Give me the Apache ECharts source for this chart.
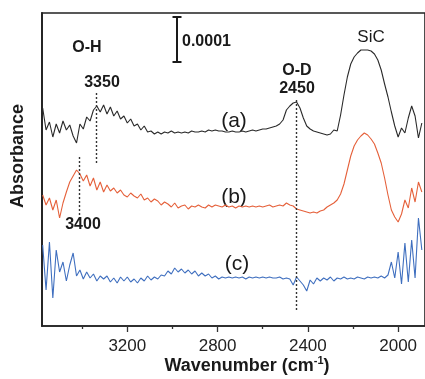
<!DOCTYPE html>
<html><head><meta charset="utf-8">
<script src="https://cdn.jsdelivr.net/npm/echarts@6/dist/echarts.min.js"></script>
<style>html,body{margin:0;padding:0;background:#fff}#c{width:425px;height:379px}</style>
</head><body><div id="c"></div>
<script>
// sampling: wavenumber = 3575 - 15*i (cm-1)
const START_WN = 3575, STEP_WN = 15;
// absorbance (arbitrary offset units, scale bar 0.0001 = 44 units)
const traceA = [218,196,204,189,202,193,205,196,201,190,183,202,197,209,205,216,220,214,221,212,219,210,215,207,210,203,207,200,202,196,200,194,195,192,194,192,194,193,195,193,194,193,194,193,195,194,194,195,194,196,195,196,195,195,194,194,195,194,194,195,194,195,196,195,196,197,197,198,199,200,202,206,216,220,223,224,218,208,200,197,195,194,193,192,191,192,196,195,211,231,249,262,269,273,276,276,276,275,272,266,256,242,229,214,200,189,198,193,208,220,210,188,203];
const traceB = [131,121,128,116,126,108,123,134,144,150,156,152,145,151,140,148,136,144,134,141,135,138,133,136,131,129,133,130,128,132,126,128,124,127,125,121,124,122,119,123,118,120,121,117,120,119,121,119,118,121,119,121,120,119,121,119,120,118,120,119,120,119,120,119,120,119,120,121,119,120,121,120,123,121,120,117,116,115,114,113,114,113,115,116,119,121,123,126,132,142,156,170,180,186,190,193,191,187,182,173,163,148,131,116,109,104,112,126,118,138,124,144,134];
const traceC = [81,36,84,28,76,54,64,45,61,73,50,56,47,54,48,52,45,50,47,50,44,48,43,49,45,49,44,47,43,48,45,50,46,49,47,51,50,55,52,58,54,57,53,56,52,55,50,53,50,52,48,50,47,49,48,49,48,49,48,49,47,49,48,49,48,49,48,49,48,48,49,47,48,47,41,49,45,41,35,46,42,48,45,48,46,49,45,48,47,49,47,48,47,49,48,47,49,48,49,48,50,48,51,64,48,74,42,83,44,86,48,108,76];
const majorTicks = [3200, 2800, 2400, 2000];
const minorTicks = [3400, 3000, 2600, 2200];
// dotted guide lines: wavenumber, lower and upper absorbance extent
const guideWn = [3336, 3411, 2453];
const guideLow = [163, 111, 16];
const guideHigh = [234, 171, 228];

const wn = traceA.map((_, i) => START_WN - STEP_WN * i);
const pair = arr => arr.map((v, i) => [wn[i], v]);
const FONT = 'Liberation Sans, Arial, sans-serif';
const TXT = '#1a1a1a';

const chart = echarts.init(document.getElementById('c'), null, {renderer: 'canvas'});
const xRange = {min: 1881, max: 3578};
const gridCfg = {left: 42, right: -3, top: 13, bottom: 53, show: true, borderColor: '#222', borderWidth: 1.6, containLabel: false};

const lineSeries = (name, data, color) => ({
  name, type: 'line', data: pair(data), showSymbol: false, symbol: 'none',
  lineStyle: {color, width: 1.1}, smooth: false, animation: false, z: 3
});

const guideSeries = {
  type: 'line', data: [], animation: false,
  markLine: {
    silent: true, symbol: ['none', 'none'], animation: false,
    lineStyle: {color: '#333', type: [2, 2], width: 1.4},
    label: {show: false},
    data: guideWn.map((w, k) => [{coord: [w, guideLow[k]]}, {coord: [w, guideHigh[k]]}])
  }
};

chart.setOption({
  backgroundColor: '#fff',
  animation: false,
  grid: gridCfg,
  xAxis: [{
    type: 'value', inverse: true, ...xRange, position: 'bottom',
    axisLine: {show: true, lineStyle: {color: '#222', width: 1.6}},
    axisTick: {show: true, inside: false, length: 6, customValues: majorTicks, lineStyle: {color: '#333', width: 1.3}},
    axisLabel: {show: true, customValues: majorTicks, formatter: v => String(v), fontSize: 17, fontFamily: FONT, color: '#222', margin: 12},
    splitLine: {show: false}
  }, {
    type: 'value', inverse: true, ...xRange, position: 'bottom', offset: 0,
    axisLine: {show: false},
    axisTick: {show: true, inside: false, length: 3, customValues: minorTicks, lineStyle: {color: '#333', width: 1.3}},
    axisLabel: {show: false},
    splitLine: {show: false}
  }],
  yAxis: {
    type: 'value', min: 0, max: 313,
    axisLine: {show: true, lineStyle: {color: '#222', width: 1.8}},
    axisTick: {show: false}, axisLabel: {show: false}, splitLine: {show: false}
  },
  series: [
    lineSeries('(a)', traceA, '#2a2a2a'),
    lineSeries('(b)', traceB, '#e5603a'),
    lineSeries('(c)', traceC, '#3f6fbf'),
    guideSeries
  ],
  graphic: [
    {type: 'text', x: 18, y: 156, rotation: Math.PI / 2, style: {text: 'Absorbance', font: 'bold 18px ' + FONT, fill: TXT, align: 'center', verticalAlign: 'middle'}},
    {type: 'text', x: 247, y: 366, style: {
      text: '{m|Wavenumber (cm}{s|-1}{m|)}', align: 'center', verticalAlign: 'middle',
      rich: {m: {font: 'bold 18px ' + FONT, fill: TXT}, s: {font: 'bold 11px ' + FONT, fill: TXT, padding: [0, 0, 10, 0]}}
    }},
    {type: 'text', x: 87, y: 48, style: {text: 'O-H', font: 'bold 16px ' + FONT, fill: TXT, align: 'center', verticalAlign: 'middle'}},
    {type: 'text', x: 102, y: 83, style: {text: '3350', font: 'bold 16px ' + FONT, fill: TXT, align: 'center', verticalAlign: 'middle'}},
    {type: 'text', x: 83, y: 225, style: {text: '3400', font: 'bold 16px ' + FONT, fill: TXT, align: 'center', verticalAlign: 'middle'}},
    {type: 'text', x: 297, y: 71, style: {text: 'O-D', font: 'bold 16px ' + FONT, fill: TXT, align: 'center', verticalAlign: 'middle'}},
    {type: 'text', x: 297, y: 89, style: {text: '2450', font: 'bold 16px ' + FONT, fill: TXT, align: 'center', verticalAlign: 'middle'}},
    {type: 'text', x: 371, y: 37, style: {text: 'SiC', font: '17px ' + FONT, fill: TXT, align: 'center', verticalAlign: 'middle'}},
    {type: 'text', x: 182, y: 42, style: {text: '0.0001', font: 'bold 16px ' + FONT, fill: TXT, align: 'left', verticalAlign: 'middle'}},
    {type: 'text', x: 234, y: 121, style: {text: '(a)', font: '21px ' + FONT, fill: TXT, align: 'center', verticalAlign: 'middle'}},
    {type: 'text', x: 234, y: 197, style: {text: '(b)', font: '21px ' + FONT, fill: TXT, align: 'center', verticalAlign: 'middle'}},
    {type: 'text', x: 237, y: 264, style: {text: '(c)', font: '21px ' + FONT, fill: TXT, align: 'center', verticalAlign: 'middle'}},
    {type: 'group', children: [
      {type: 'line', shape: {x1: 177, y1: 17, x2: 177, y2: 62}, style: {stroke: '#1a1a1a', lineWidth: 2}},
      {type: 'line', shape: {x1: 172.5, y1: 17, x2: 181.5, y2: 17}, style: {stroke: '#1a1a1a', lineWidth: 2}},
      {type: 'line', shape: {x1: 172.5, y1: 62, x2: 181.5, y2: 62}, style: {stroke: '#1a1a1a', lineWidth: 2}}
    ]}
  ]
});
</script></body></html>
